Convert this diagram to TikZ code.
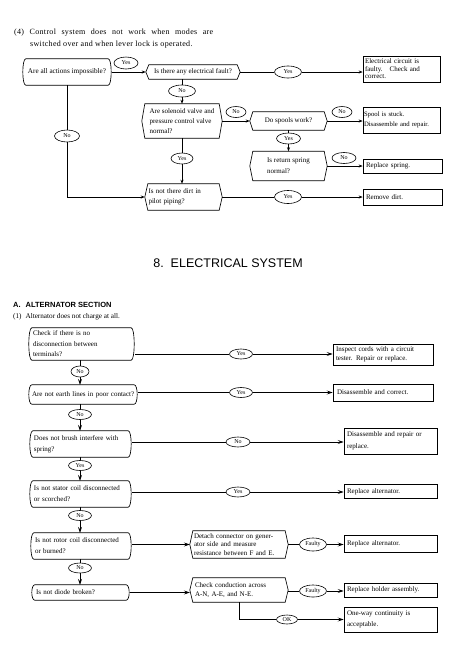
\documentclass[tikz,border=0pt]{standalone}
\usepackage{fontspec}
\setmainfont{Liberation Serif}
\newfontfamily\hsans{Liberation Sans}
\newfontfamily\titlefont[LetterSpace=4]{Liberation Serif}
\usetikzlibrary{shapes.geometric,arrows.meta}
\newcommand\curvyshape[1]{\draw[ln] ([xshift=4pt]#1.north west) -- ([xshift=-4pt]#1.north east) .. controls (#1.north east) and (#1.south east) .. ([xshift=-4pt]#1.south east) -- ([xshift=4pt]#1.south west) .. controls (#1.south west) and (#1.north west) .. ([xshift=4pt]#1.north west) -- cycle;}
\newcommand\chevshape[1]{\draw[ln] ([xshift=3pt]#1.north west) -- ([xshift=-3pt]#1.north east) -- (#1.east) -- ([xshift=-3pt]#1.south east) -- ([xshift=3pt]#1.south west) -- (#1.west) -- cycle;}
\tikzset{
  ln/.style={line width=0.65pt},
  tx/.style={inner sep=0pt, font=\fontsize{7}{10.5}\selectfont, align=left},
  box/.style={tx, draw, line width=0.65pt, rectangle},
  shp/.style={tx},
  oval/.style={ellipse, draw, line width=0.6pt, inner sep=0pt, font=\fontsize{6}{6}\selectfont},
  arr/.style={-{Stealth[length=4pt,width=3pt]}},
  arrb/.style={-{Stealth[length=6pt,width=4pt,inset=2.5pt]}},
}
\begin{document}
\begin{tikzpicture}[x=1pt,y=1pt]
\useasboundingbox[fill=white] (0,0) rectangle (455,-654);
% ---------- top part ----------
\node[anchor=base west, inner sep=0pt, font=\titlefont\fontsize{8}{9}\selectfont] (t1) at (14,-34.5) {\makebox[199pt][s]{(4)\ Control system does not work when modes are}};
\node[anchor=base west, inner sep=0pt, font=\titlefont\fontsize{8}{9}\selectfont] (t2) at (30,-46) {switched over and when lever lock is operated.};

\node[shp, minimum width=90pt, minimum height=26pt, font=\fontsize{7.2}{10}\selectfont] (dec1) at (67,-72) {Are all actions impossible?};
\node[shp, minimum width=94pt, minimum height=14pt] (dec2) at (193,-72) {Is there any electrical fault?};
\node[box, minimum width=77pt, minimum height=26pt, text width=73pt, font=\fontsize{7}{7.4}\selectfont] (r1) at (401.5,-69) {Electrical circuit is\\faulty.\ \ \ Check and\\correct.};
\node[shp, minimum width=80pt, minimum height=34pt, font=\fontsize{7}{10}\selectfont] (dec3) at (182,-121) {Are solenoid valve and\\pressure control valve\\normal?};
\node[shp, minimum width=77pt, minimum height=18pt] (spools) at (288.5,-121) {Do spools work?};
\node[box, minimum width=77pt, minimum height=26pt, text width=75pt, font=\fontsize{6.7}{10.7}\selectfont] (r2) at (401.5,-120) {Spool is stuck.\\Disassemble and repair.};
\node[shp, minimum width=77pt, minimum height=29pt, font=\fontsize{7}{11}\selectfont] (spring) at (288.5,-166) {Is return spring\\normal?};
\node[box, minimum width=79pt, minimum height=14pt, text width=73pt] (r3) at (402.5,-166) {Replace spring.};
\node[shp, minimum width=77pt, minimum height=26pt, text width=70pt] (dec4) at (183.5,-197) {Is not there dirt in\\pilot piping?};
\node[box, minimum width=79pt, minimum height=16pt, text width=73pt] (r4) at (402.5,-197) {Remove dirt.};

\curvyshape{dec1}
\chevshape{dec2}
\chevshape{dec3}
\chevshape{spools}
\chevshape{spring}
\chevshape{dec4}

\node[oval, minimum width=24pt, minimum height=12pt] (yesA) at (126,-63) {Yes};
\node[oval, minimum width=27pt, minimum height=12pt] (yesB) at (288,-72) {Yes};
\node[oval, minimum width=27pt, minimum height=12pt] (noA) at (182,-91) {No};
\node[oval, minimum width=20pt, minimum height=11pt] (noB) at (236,-112) {No};
\node[oval, minimum width=20pt, minimum height=11pt] (noC) at (342,-112) {No};
\node[oval, minimum width=24pt, minimum height=11pt] (yesC) at (288.5,-138.5) {Yes};
\node[oval, minimum width=24pt, minimum height=11pt] (noD) at (344,-158) {No};
\node[oval, minimum width=22pt, minimum height=11pt] (yesD) at (182,-158.5) {Yes};
\node[oval, minimum width=25pt, minimum height=12pt] (noE) at (67,-136) {No};
\node[oval, minimum width=27pt, minimum height=13pt] (yesE) at (288,-197) {Yes};

\draw[ln,arr] (dec1.east) -- (dec2.west);
\draw[ln] (dec2.east) -- (yesB.west);
\draw[ln,arr] (yesB.east) -- (yesB.east -| r1.west);
\draw[ln] (noA.north |- dec2.south) -- (noA.north);
\draw[ln,arr] (noA.south) -- (noA.south |- dec3.north);
\draw[ln,arr] (dec3.east) -- (spools.west);
\draw[ln,arr] (spools.east) -- (spools.east -| r2.west);
\draw[ln] (yesC.north |- spools.south) -- (yesC.north);
\draw[ln,arr] (yesC.south) -- (yesC.south |- spring.north);
\draw[ln,arr] (spring.east) -- (spring.east -| r3.west);
\draw[ln] (dec3.south) -- (yesD.north);
\draw[ln,arr] (yesD.south) -- (yesD.south |- dec4.north);
\draw[ln] (dec1.south) -- (noE.north);
\draw[ln,arr] (noE.south) |- (dec4.west);
\draw[ln] (dec4.east) -- (yesE.west);
\draw[ln,arr] (yesE.east) -- (yesE.east -| r4.west);

% ---------- headings ----------
\node[anchor=base, inner sep=0pt, font=\hsans\fontsize{12.5}{14}\selectfont] (h8) at (228,-267) {8.\hspace{7pt}ELECTRICAL SYSTEM};
\node[anchor=base west, inner sep=0pt, font=\hsans\bfseries\fontsize{7.5}{9}\selectfont] (hA) at (13,-307.5) {A.\hspace{5pt}ALTERNATOR SECTION};
\node[anchor=base west, inner sep=0pt, font=\fontsize{7.2}{9}\selectfont] (h1) at (13,-318.5) {(1)\hspace{4pt}Alternator does not charge at all.};

% ---------- bottom part ----------
\node[shp, minimum width=107pt, minimum height=32pt, text width=97pt] (b1) at (81.5,-344) {Check if there is no\\disconnection between\\terminals?};
\node[box, minimum width=100pt, minimum height=21pt, text width=94pt, font=\fontsize{7}{8.5}\selectfont] (r5) at (383,-354.5) {Inspect cords with a circuit\\tester. Repair or replace.};
\node[shp, minimum width=110pt, minimum height=19pt, text width=102pt] (b2) at (83,-394.5) {\mbox{Are not earth lines in poor contact?}};
\node[box, minimum width=100pt, minimum height=17pt, text width=92pt] (r6) at (383,-392.5) {Disassemble and correct.};
\node[shp, minimum width=103pt, minimum height=26pt, text width=93pt, font=\fontsize{7}{11}\selectfont] (b3) at (80.5,-444) {Does not brush interfere with\\spring?};
\node[box, minimum width=93pt, minimum height=26pt, text width=87pt, font=\fontsize{7}{12}\selectfont] (r7) at (390.5,-441) {Disassemble and repair or\\replace.};
\node[shp, minimum width=103pt, minimum height=26pt, text width=93pt, font=\fontsize{7}{11}\selectfont] (b4) at (80.5,-494) {Is not stator coil disconnected\\or scorched?};
\node[box, minimum width=93pt, minimum height=14pt, text width=87pt] (r8) at (390.5,-491.5) {Replace alternator.};
\node[shp, minimum width=102pt, minimum height=26pt, text width=92pt, font=\fontsize{7}{11}\selectfont] (b5) at (81,-546) {Is not rotor coil disconnected\\or burned?};
\node[shp, minimum width=98pt, minimum height=27pt, text width=90pt, font=\fontsize{7}{8.3}\selectfont] (c1) at (239,-544.5) {Detach connector on gener-\\ator side and measure\\resistance between F and E.};
\node[box, minimum width=93pt, minimum height=17pt, text width=87pt] (r9) at (390.5,-543.5) {Replace alternator.};
\node[shp, minimum width=99pt, minimum height=15pt, text width=89pt] (b6) at (80.5,-592.5) {Is not diode broken?};
\node[shp, minimum width=98pt, minimum height=24pt, text width=88pt, font=\fontsize{7}{9.3}\selectfont] (c2) at (239,-590) {Check conduction across\\A-N, A-E, and N-E.};
\node[box, minimum width=93pt, minimum height=14pt, text width=87pt] (r10) at (390.5,-590) {Replace holder assembly.};
\node[box, minimum width=93pt, minimum height=25pt, text width=87pt, font=\fontsize{7}{11.5}\selectfont] (r11) at (390.5,-619.5) {One-way continuity is\\acceptable.};

\curvyshape{b1}
\curvyshape{b2}
\curvyshape{b3}
\curvyshape{b4}
\curvyshape{b5}
\curvyshape{b6}
\chevshape{c1}
\chevshape{c2}

\node[oval, minimum width=23pt, minimum height=10pt] (yesF) at (241,-354) {Yes};
\node[oval, minimum width=18pt, minimum height=11pt] (noF) at (80,-371.5) {No};
\node[oval, minimum width=23pt, minimum height=10pt] (yesG) at (241,-392.5) {Yes};
\node[oval, minimum width=23pt, minimum height=10pt] (noG) at (80,-414.5) {No};
\node[oval, minimum width=24pt, minimum height=10pt] (noH) at (238,-442) {No};
\node[oval, minimum width=23pt, minimum height=10pt] (yesH) at (80,-465.5) {Yes};
\node[oval, minimum width=24pt, minimum height=10pt] (yesI) at (238,-492) {Yes};
\node[oval, minimum width=23pt, minimum height=10pt] (noI) at (80,-515.5) {No};
\node[oval, minimum width=27pt, minimum height=13pt] (faultyA) at (313,-544.5) {Faulty};
\node[oval, minimum width=23pt, minimum height=10pt] (noJ) at (80,-568) {No};
\node[oval, minimum width=27pt, minimum height=12pt] (faultyB) at (313,-591) {Faulty};
\node[oval, minimum width=21pt, minimum height=9pt] (okA) at (287,-619.5) {OK};

\draw[ln] (b1.east |- yesF) -- (yesF.west);
\draw[ln,arrb] (yesF.east) -- (yesF.east -| r5.west);
\draw[ln] (noF.north |- b1.south) -- (noF.north);
\draw[ln,arrb] (noF.south) -- (noF.south |- b2.north);
\draw[ln] (b2.east |- yesG) -- (yesG.west);
\draw[ln,arrb] (yesG.east) -- (yesG.east -| r6.west);
\draw[ln] (noG.north |- b2.south) -- (noG.north);
\draw[ln,arrb] (noG.south) -- (noG.south |- b3.north);
\draw[ln] (b3.east |- noH) -- (noH.west);
\draw[ln,arrb] (noH.east) -- (noH.east -| r7.west);
\draw[ln] (yesH.north |- b3.south) -- (yesH.north);
\draw[ln,arrb] (yesH.south) -- (yesH.south |- b4.north);
\draw[ln] (b4.east |- yesI) -- (yesI.west);
\draw[ln,arrb] (yesI.east) -- (yesI.east -| r8.west);
\draw[ln] (noI.north |- b4.south) -- (noI.north);
\draw[ln,arrb] (noI.south) -- (noI.south |- b5.north);
\draw[ln,arrb] (b5.east |- c1.west) -- (c1.west);
\draw[ln] (c1.east) -- (faultyA.west);
\draw[ln,arrb] (faultyA.east) -- (faultyA.east -| r9.west);
\draw[ln] (noJ.north |- b5.south) -- (noJ.north);
\draw[ln,arrb] (noJ.south) -- (noJ.south |- b6.north);
\draw[ln,arrb] (b6.east) -- (b6.east -| c2.west);
\draw[ln] (c2.east |- faultyB) -- (faultyB.west);
\draw[ln,arrb] (faultyB.east) -- (faultyB.east -| r10.west);
\draw[ln] (c2.south) |- (okA.west);
\draw[ln,arrb] (okA.east) -- (okA.east -| r11.west);
\end{tikzpicture}
\end{document}
